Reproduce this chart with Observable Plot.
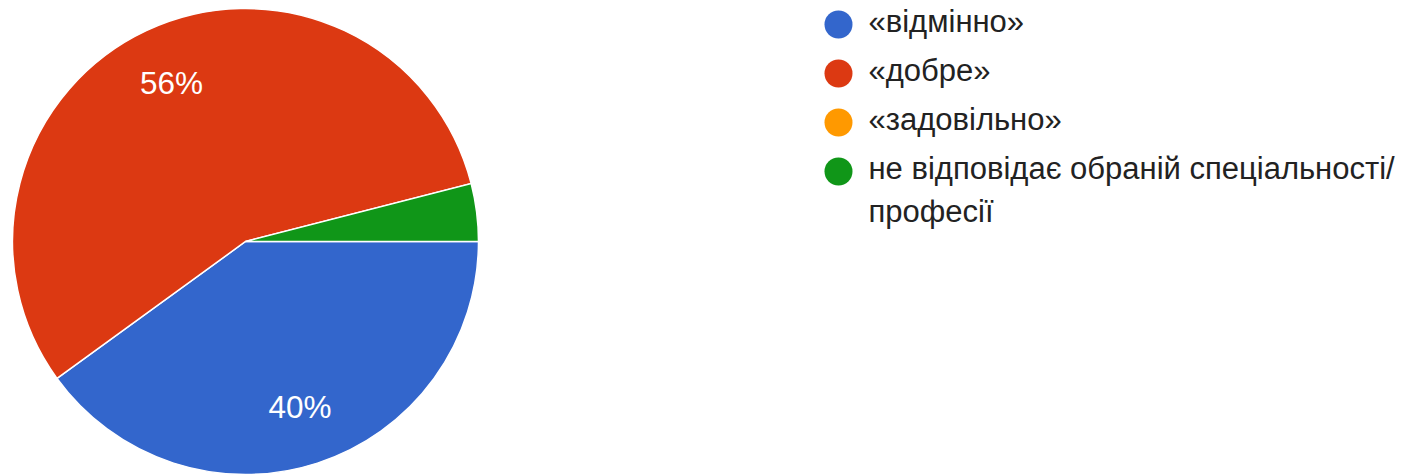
<!DOCTYPE html>
<html><head><meta charset="utf-8">
<script src="https://cdn.jsdelivr.net/npm/d3@7"></script>
<script src="https://cdn.jsdelivr.net/npm/@observablehq/plot@0.6"></script>
<style>
html,body{margin:0;padding:0;background:#fff;}
#wrap{position:relative;width:1404px;height:475px;overflow:hidden;font-family:"Liberation Sans",Arial,sans-serif;}
#pie{position:absolute;left:0;top:0;}
#legend{position:absolute;left:824px;top:0;}
</style></head><body><div id="wrap"><div id="pie"></div><div id="legend"></div></div>
<script>
// Data
const categories = ["«відмінно»", "«добре»", "«задовільно»", "не відповідає обраній спеціальності/професії"];
const counts = [10, 14, 0, 1];
const colors = ["#3366cc", "#dc3912", "#ff9900", "#109618"];

const total = d3.sum(counts);
const slices = categories.map((c, i) => ({category: c, value: counts[i]}));
const colorOf = d3.scaleOrdinal(categories, colors);
const arcs = d3.pie().value(d => d.value).sort(null)
  .startAngle(Math.PI / 2).endAngle(Math.PI / 2 + 2 * Math.PI)(slices);

// label positions in data units (unit circle, y up)
const labelR = 0.75;
const labels = arcs.filter(a => a.value / total >= 0.05).map(a => {
  const mid = (a.startAngle + a.endAngle) / 2;
  return {lx: labelR * Math.sin(mid), ly: labelR * Math.cos(mid), label: `${Math.round(a.value / total * 100)}%`};
});

function pieMark(index, scales) {
  const {x, y} = scales;
  const cx = x(0), cy = y(0), r = x(1) - x(0);
  const arc = d3.arc().innerRadius(0).outerRadius(r);
  const g = d3.create("svg:g").attr("transform", `translate(${cx},${cy})`);
  g.selectAll("path").data(arcs.filter(a => a.value > 0)).join("path")
    .attr("d", arc)
    .attr("fill", a => colorOf(a.data.category))
    .attr("stroke", "#fff").attr("stroke-width", 1.5);
  return g.node();
}

const font = '"Liberation Sans", Arial, sans-serif';

const pie = Plot.plot({
  width: 492, height: 475,
  marginLeft: 12.5, marginRight: 13.5, marginTop: 8.5, marginBottom: 0.5,
  x: {domain: [-1, 1], axis: null},
  y: {domain: [-1, 1], axis: null},
  style: {fontFamily: font, fontSize: "31px", background: "transparent", overflow: "visible"},
  marks: [
    pieMark,
    Plot.text(labels, {x: "lx", y: "ly", text: "label", fill: "white", fontSize: 31.5})
  ]
});
document.getElementById("pie").append(pie);

const legend = Plot.plot({
  width: 580, height: 240,
  margin: 0, marginTop: 23, marginBottom: 68,
  x: {axis: null},
  y: {type: "point", domain: categories, axis: null, padding: 0},
  color: {domain: categories, range: colors},
  style: {fontFamily: font, fontSize: "31px", color: "#222", background: "transparent", overflow: "visible"},
  marks: [
    Plot.dot(categories, {y: d => d, fill: d => d, r: 14, frameAnchor: "left", dx: 14}),
    Plot.text(categories, {
      y: d => d, text: d => d.replace("/", "/\n"),
      frameAnchor: "left", dx: 44, textAnchor: "start",
      lineAnchor: "top", dy: -22, lineHeight: 1.36,
      fill: "#222", fontSize: 31
    })
  ]
});
document.getElementById("legend").append(legend);
</script>
</body></html>
